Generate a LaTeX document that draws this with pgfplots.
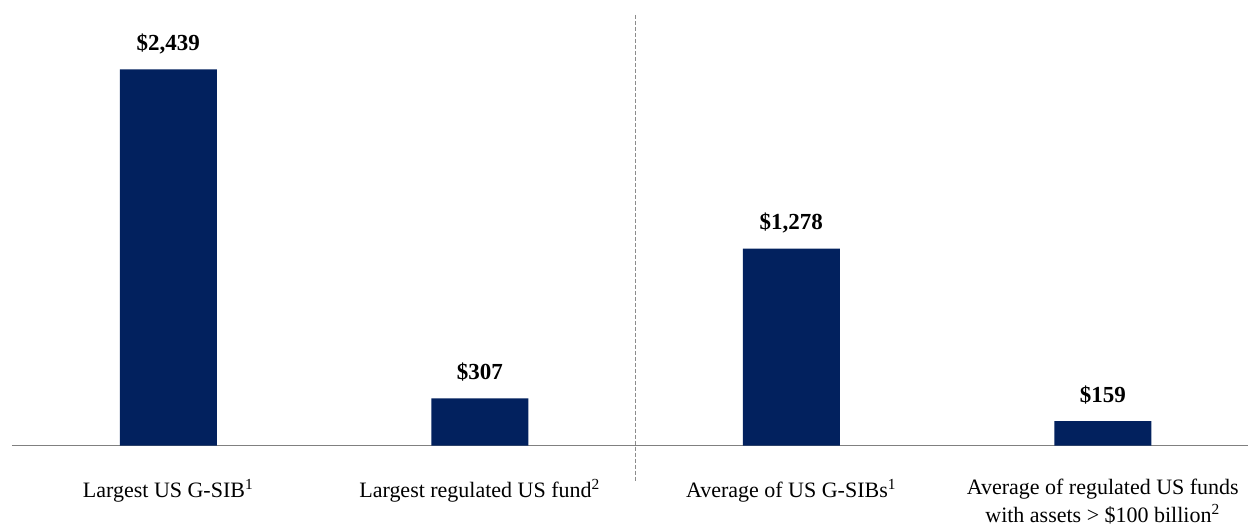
\documentclass[border=0pt]{standalone}
\usepackage{fontspec}
\setmainfont{Liberation Serif}
\usepackage{pgfplots}
\pgfplotsset{compat=1.18}
\definecolor{barblue}{HTML}{02215E}
\definecolor{axisgray}{HTML}{808080}
\definecolor{dashgray}{HTML}{8C8C8C}
\begin{document}
\begin{tikzpicture}
\begin{axis}[
    scale only axis,
    width=618.5pt, height=223pt,
    xmin=-0.502, xmax=3.467,
    ymin=0, ymax=2889,
    axis x line=bottom, axis y line=none,
    x axis line style={-, draw=axisgray, line width=0.75pt},
    ytick=\empty,
    xtick={0,1,2,3},
    major tick length=0pt,
    xticklabels={
        Largest US G-SIB\textsuperscript{1},
        Largest regulated US fund\textsuperscript{2},
        Average of US G-SIBs\textsuperscript{1},
        {Average of regulated US funds\\with assets > \$100 billion\textsuperscript{2}}
    },
    xticklabel style={font=\fontsize{11}{14}\selectfont, align=center,
        anchor=north, inner sep=0pt, yshift=-16.5pt},
    ybar, bar width=48.5pt,
    nodes near coords={\$\pgfmathprintnumber{\pgfplotspointmeta}},
    every node near coord/.append style={font=\bfseries\fontsize{11.5}{14}\selectfont,
        anchor=base, yshift=9.5pt, text=black},
    clip=false,
    /pgf/number format/.cd, fixed, 1000 sep={,}, assume math mode=true,
]
% values in $ billions
\addplot[draw=none, fill=barblue] coordinates {
    (0,2439)
    (1,307)
    (2,1278)
    (3,159)
};
% divider between the two groups
\draw[dashgray, line width=0.5pt, dash pattern=on 2pt off 1pt]
    (axis cs:1.5,2792) -- (axis cs:1.5,-227);
\path (rel axis cs:0,1) ++(-6pt,0pt) coordinate (tl);
\path (rel axis cs:0,0) ++(-6pt,-40pt) coordinate (bl);
\end{axis}
\end{tikzpicture}
\end{document}
